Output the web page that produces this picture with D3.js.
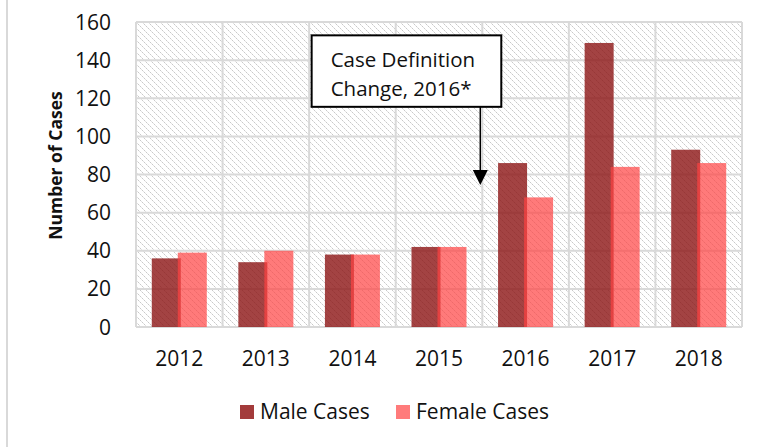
<!DOCTYPE html>
<html>
<head>
<meta charset="utf-8">
<script src="https://cdn.jsdelivr.net/npm/d3@7"></script>
<style>
  html, body { margin: 0; padding: 0; background: #fff; }
  svg { display: block; }
  text { font-family: "Open Sans", "Noto Sans", sans-serif; fill: #111; }
</style>
</head>
<body>
<svg id="chart" width="760" height="447"></svg>
<script>
const years = ["2012", "2013", "2014", "2015", "2016", "2017", "2018"];
const maleCases = [36, 34, 38, 42, 86, 149, 93];
const femaleCases = [39, 40, 38, 42, 68, 84, 86];
const yTicks = [0, 20, 40, 60, 80, 100, 120, 140, 160];
const seriesNames = ["Male Cases", "Female Cases"];
const annotationLines = ["Case Definition", "Change, 2016*"];

const W = 760, H = 447;
const margin = { left: 136, right: 18, top: 22, bottom: 120 };
const svg = d3.select("#chart");

const defs = svg.append("defs");
const P = 6;
const pat = defs.append("pattern")
  .attr("id", "hatch").attr("patternUnits", "userSpaceOnUse")
  .attr("width", P).attr("height", P);
pat.append("rect").attr("width", P).attr("height", P).attr("fill", "#fff");
pat.selectAll("rect.d").data(d3.range(P)).join("rect").attr("class", "d")
  .attr("x", d => d).attr("y", d => d).attr("width", 1).attr("height", 1)
  .attr("fill", d => d % 2 ? "#e2e2e2" : "#c9c9c9");

// left frame line
svg.append("line").attr("x1", 7).attr("x2", 7).attr("y1", 0).attr("y2", H)
  .attr("stroke", "#d9d9d9").attr("stroke-width", 2);

const x = d3.scaleBand().domain(years)
  .range([margin.left, W - margin.right]).padding(0);
const y = d3.scaleLinear().domain([0, 160])
  .range([H - margin.bottom, margin.top]);

const x0 = margin.left, x1 = W - margin.right;
const yTop = y(160), yBot = y(0);

// plot background
svg.append("rect").attr("x", x0).attr("y", yTop)
  .attr("width", x1 - x0).attr("height", yBot - yTop)
  .attr("fill", "url(#hatch)");

// horizontal gridlines
svg.append("g").selectAll("line").data(yTicks).join("line")
  .attr("x1", x0).attr("x2", x1)
  .attr("y1", d => y(d)).attr("y2", d => y(d))
  .attr("stroke", "#d9d9d9").attr("stroke-width", 2);

// vertical gridlines at category boundaries
const bounds = years.map(c => x(c)).concat([x1]);
svg.append("g").selectAll("line").data(bounds).join("line")
  .attr("x1", d => d).attr("x2", d => d)
  .attr("y1", yTop).attr("y2", yBot)
  .attr("stroke", "#d9d9d9").attr("stroke-width", 2);

// bars
const bw = x.bandwidth();
const barW = bw * 0.335;
const overlap = 3;
const data = years.map((c, i) => ({ c, m: maleCases[i], f: femaleCases[i] }));

svg.append("g").selectAll("rect").data(data).join("rect")
  .attr("x", d => x(d.c) + bw / 2 - barW + overlap / 2)
  .attr("width", barW)
  .attr("y", d => y(d.m)).attr("height", d => y(0) - y(d.m))
  .attr("fill", "#8c1414").attr("fill-opacity", 0.8);

svg.append("g").selectAll("rect").data(data).join("rect")
  .attr("x", d => x(d.c) + bw / 2 - overlap / 2)
  .attr("width", barW)
  .attr("y", d => y(d.f)).attr("height", d => y(0) - y(d.f))
  .attr("fill", "#ff4242").attr("fill-opacity", 0.7);

// y axis labels
svg.append("g").selectAll("text").data(yTicks).join("text")
  .attr("x", x0 - 25).attr("y", d => y(d))
  .attr("dy", "0.36em").attr("text-anchor", "end")
  .attr("font-size", 21).text(d => d);

// x axis labels
svg.append("g").selectAll("text").data(years).join("text")
  .attr("x", d => x(d) + bw / 2).attr("y", yBot + 39)
  .attr("text-anchor", "middle").attr("font-size", 21).text(d => d);

// y title
svg.append("text")
  .attr("transform", `translate(62,${(yTop + yBot) / 2 - 9}) rotate(-90)`)
  .attr("text-anchor", "middle").attr("font-size", 17.5).attr("font-weight", "bold")
  .text("Number of Cases");

// annotation
const arrowX = x("2016") - 2;
const boxX = x("2014") + 2.5, boxR = x("2016") + 19;
const boxTop = y(153), boxBot = y(115.5);
svg.append("rect").attr("x", boxX).attr("y", boxTop)
  .attr("width", boxR - boxX).attr("height", boxBot - boxTop)
  .attr("fill", "#fff").attr("stroke", "#000").attr("stroke-width", 2);
svg.append("g").selectAll("text").data(annotationLines).join("text")
  .attr("x", boxX + 19).attr("y", (d, i) => boxTop + 32 + i * 28.5)
  .attr("font-size", 20.5).text(d => d);
const tipY = y(74.5);
svg.append("line").attr("x1", arrowX).attr("x2", arrowX)
  .attr("y1", boxBot).attr("y2", tipY - 12)
  .attr("stroke", "#000").attr("stroke-width", 1.5);
svg.append("path")
  .attr("d", `M${arrowX - 7.5},${tipY - 15} L${arrowX + 7.5},${tipY - 15} L${arrowX},${tipY} Z`)
  .attr("fill", "#000");

// legend
const legend = [
  { name: seriesNames[0], x: 240, fill: "#a33b3b" },
  { name: seriesNames[1], x: 396, fill: "#ff7b7b" }
];
const lg = svg.append("g").selectAll("g").data(legend).join("g");
lg.append("rect").attr("x", d => d.x).attr("y", 405)
  .attr("width", 14).attr("height", 14).attr("fill", d => d.fill);
lg.append("text").attr("x", d => d.x + 20).attr("y", 419)
  .attr("font-size", 21).text(d => d.name);
</script>
</body>
</html>
